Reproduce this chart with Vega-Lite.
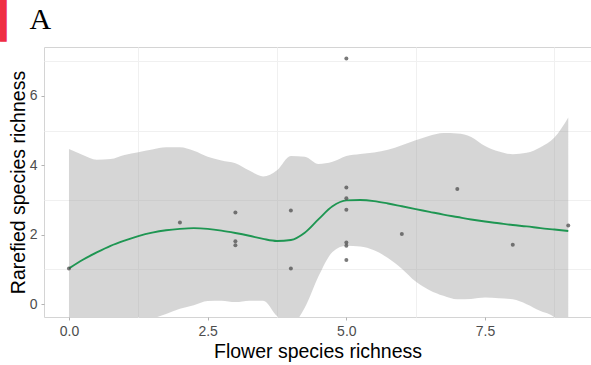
{
  "$schema": "https://vega.github.io/schema/vega-lite/v6.json",
  "width": 547,
  "height": 270,
  "autosize": {"type": "none"},
  "padding": {"left": 44, "top": 47, "right": 0, "bottom": 48},
  "background": "white",
  "title": {
    "text": "▎",
    "subtitle": "\u2800 A",
    "anchor": "start",
    "frame": "group",
    "dx": -44,
    "offset": 7,
    "color": "#EF2D45",
    "font": "DejaVu Sans",
    "fontSize": 35,
    "fontWeight": "normal",
    "subtitleFont": "Liberation Serif",
    "subtitleFontSize": 30,
    "subtitleColor": "black",
    "subtitlePadding": -35
  },
  "config": {
    "view": {"stroke": "#D4D4D4", "strokeWidth": 1},
    "axis": {
      "labelFont": "Liberation Sans",
      "labelFontSize": 14,
      "labelColor": "#4D4D4D",
      "tickColor": "#B3B3B3",
      "tickSize": 3,
      "labelPadding": 4,
      "titleFont": "Liberation Sans",
      "titleFontSize": 19.5,
      "titleFontWeight": "normal",
      "titleColor": "#000000",
      "gridColor": "#E6E6E6",
      "gridWidth": 1,
      "domain": false
    }
  },
  "datasets": {
    "fit": [
      {"flowers": 0, "fit": 1.03, "lower": -2.4, "upper": 4.47},
      {"flowers": 0.25, "fit": 1.28, "lower": -1.8, "upper": 4.3},
      {"flowers": 0.5, "fit": 1.49, "lower": -1.3, "upper": 4.16},
      {"flowers": 0.75, "fit": 1.68, "lower": -0.9, "upper": 4.18},
      {"flowers": 1.0, "fit": 1.83, "lower": -0.7, "upper": 4.3},
      {"flowers": 1.25, "fit": 1.96, "lower": -0.55, "upper": 4.38},
      {"flowers": 1.5, "fit": 2.06, "lower": -0.42, "upper": 4.46},
      {"flowers": 1.75, "fit": 2.13, "lower": -0.28, "upper": 4.52},
      {"flowers": 2.0, "fit": 2.17, "lower": -0.13, "upper": 4.52},
      {"flowers": 2.25, "fit": 2.19, "lower": -0.03, "upper": 4.42},
      {"flowers": 2.5, "fit": 2.17, "lower": 0.09, "upper": 4.25},
      {"flowers": 2.75, "fit": 2.12, "lower": 0.1, "upper": 4.14},
      {"flowers": 3.0, "fit": 2.05, "lower": 0.06, "upper": 4.06},
      {"flowers": 3.25, "fit": 1.97, "lower": 0.1, "upper": 3.85},
      {"flowers": 3.5, "fit": 1.88, "lower": 0.1, "upper": 3.68},
      {"flowers": 3.75, "fit": 1.82, "lower": -0.34, "upper": 3.86},
      {"flowers": 4.0, "fit": 1.85, "lower": -0.6, "upper": 4.27},
      {"flowers": 4.25, "fit": 2.06, "lower": -0.1, "upper": 4.25},
      {"flowers": 4.5, "fit": 2.45, "lower": 0.81, "upper": 4.04},
      {"flowers": 4.75, "fit": 2.82, "lower": 1.5, "upper": 4.1},
      {"flowers": 5.0, "fit": 2.99, "lower": 1.68, "upper": 4.27},
      {"flowers": 5.25, "fit": 3.0, "lower": 1.66, "upper": 4.33},
      {"flowers": 5.5, "fit": 2.97, "lower": 1.55, "upper": 4.37},
      {"flowers": 5.75, "fit": 2.9, "lower": 1.33, "upper": 4.45},
      {"flowers": 6.0, "fit": 2.82, "lower": 1.02, "upper": 4.58},
      {"flowers": 6.25, "fit": 2.74, "lower": 0.65, "upper": 4.72},
      {"flowers": 6.5, "fit": 2.66, "lower": 0.4, "upper": 4.85},
      {"flowers": 6.75, "fit": 2.58, "lower": 0.24, "upper": 4.93},
      {"flowers": 7.0, "fit": 2.51, "lower": 0.14, "upper": 4.92},
      {"flowers": 7.25, "fit": 2.44, "lower": 0.15, "upper": 4.82},
      {"flowers": 7.5, "fit": 2.38, "lower": 0.19, "upper": 4.56},
      {"flowers": 7.75, "fit": 2.33, "lower": 0.17, "upper": 4.4},
      {"flowers": 8.0, "fit": 2.28, "lower": 0.14, "upper": 4.32},
      {"flowers": 8.25, "fit": 2.24, "lower": 0.0, "upper": 4.36},
      {"flowers": 8.5, "fit": 2.19, "lower": -0.2, "upper": 4.52},
      {"flowers": 8.75, "fit": 2.15, "lower": -0.38, "upper": 4.8},
      {"flowers": 9.0, "fit": 2.11, "lower": -1.16, "upper": 5.38}
    ],
    "points": [
      {"flowers": 0, "rarefied": 1.03},
      {"flowers": 2, "rarefied": 2.35},
      {"flowers": 3, "rarefied": 2.64},
      {"flowers": 3, "rarefied": 1.81},
      {"flowers": 3, "rarefied": 1.7},
      {"flowers": 4, "rarefied": 2.7},
      {"flowers": 4, "rarefied": 1.03},
      {"flowers": 5, "rarefied": 7.08},
      {"flowers": 5, "rarefied": 3.36},
      {"flowers": 5, "rarefied": 3.05},
      {"flowers": 5, "rarefied": 2.72},
      {"flowers": 5, "rarefied": 1.78},
      {"flowers": 5, "rarefied": 1.68},
      {"flowers": 5, "rarefied": 1.27},
      {"flowers": 6, "rarefied": 2.02},
      {"flowers": 7, "rarefied": 3.32},
      {"flowers": 8, "rarefied": 1.71},
      {"flowers": 9, "rarefied": 2.27}
    ]
  },
  "resolve": {"axis": {"x": "independent", "y": "independent"}},
  "layer": [
    {
      "data": {"name": "fit"},
      "mark": {"type": "area", "clip": true, "color": "#999999", "opacity": 0.4, "interpolate": "monotone"},
      "encoding": {
        "x": {
          "field": "flowers", "type": "quantitative",
          "scale": {"domain": [-0.45, 9.41], "nice": false, "zero": false},
          "axis": {"orient": "bottom", "values": [1.25, 3.75, 6.25, 8.75], "labels": false, "ticks": false, "title": null, "gridColor": "#F0F0F0"}
        },
        "y": {
          "field": "lower", "type": "quantitative",
          "scale": {"domain": [-0.37, 7.41], "nice": false, "zero": false},
          "axis": {"orient": "left", "values": [1, 3, 5, 7], "labels": false, "ticks": false, "title": null, "gridColor": "#F0F0F0"}
        },
        "y2": {"field": "upper"}
      }
    },
    {
      "data": {"name": "fit"},
      "mark": {"type": "line", "clip": true, "color": "#1E9652", "strokeWidth": 1.9, "interpolate": "monotone"},
      "encoding": {
        "x": {
          "field": "flowers", "type": "quantitative",
          "axis": {"orient": "bottom", "values": [0, 2.5, 5, 7.5], "format": ".1f", "title": "Flower species richness", "titlePadding": 4}
        },
        "y": {
          "field": "fit", "type": "quantitative",
          "axis": {"orient": "left", "values": [0, 2, 4, 6], "format": "d", "title": "Rarefied species richness", "titlePadding": 1}
        }
      }
    },
    {
      "data": {"name": "points"},
      "mark": {"type": "circle", "clip": true, "color": "#4D4D4D", "opacity": 0.75, "size": 16},
      "encoding": {
        "x": {"field": "flowers", "type": "quantitative", "axis": null},
        "y": {"field": "rarefied", "type": "quantitative", "axis": null}
      }
    }
  ]
}
